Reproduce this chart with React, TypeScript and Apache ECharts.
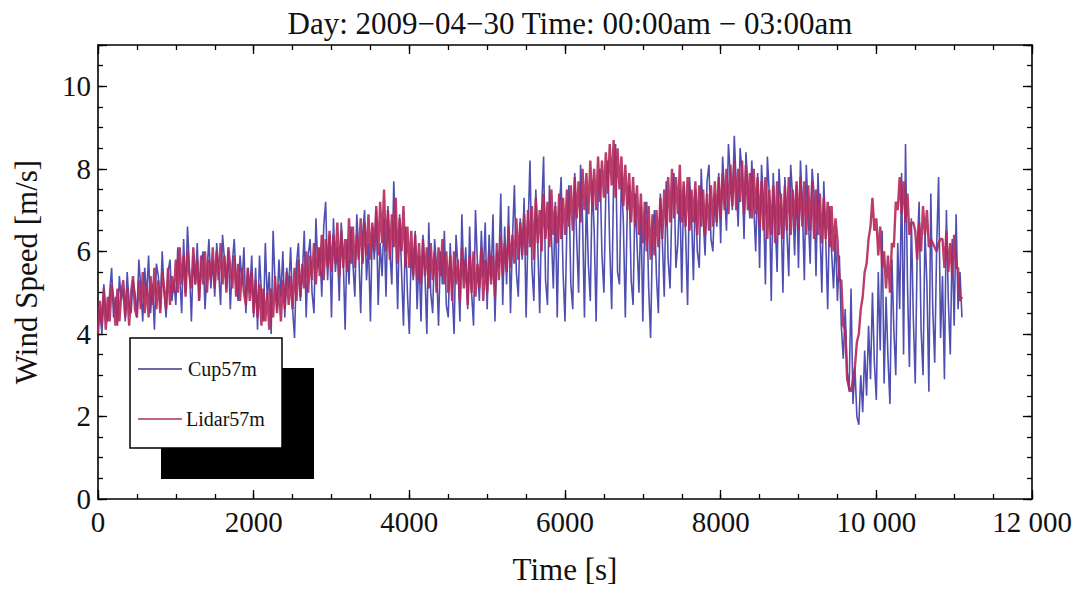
import React, { useEffect, useRef } from "react";
import * as echarts from "echarts";

// Sampling interval of the two records, seconds
const SAMPLE_INTERVAL_S = 25;

const TITLE = "Day: 2009\u221204\u221230 Time: 00:00am \u2212 03:00am";
const X_NAME = "Time [s]";
const Y_NAME = "Wind Speed [m/s]";
const SERIES_NAMES = ["Cup57m", "Lidar57m"];

const X_TICKS = [0, 2000, 4000, 6000, 8000, 10000, 12000];
const Y_TICKS = [0, 2, 4, 6, 8, 10];

// Cup anemometer at 57 m (m/s), one value per 25 s from t = 0
const CUP_57M = [
  4.1, 4.6, 4.0, 5.2, 4.5, 4.3, 5.0, 5.6, 4.4, 4.9, 4.2, 5.4, 4.8, 5.1, 4.3, 5.5, 4.7, 4.5, 5.3, 5.0,
  4.4, 5.8, 5.1, 4.3, 5.6, 4.9, 5.9, 4.5, 5.2, 4.1, 5.7, 5.4, 4.6, 6.0, 5.0, 4.4, 5.5, 5.8, 4.8, 5.3,
  4.7, 6.1, 5.4, 4.5, 6.3, 5.0, 6.6, 5.6, 4.3, 5.9, 5.2, 6.2, 4.8, 5.7, 6.0, 4.6, 5.5, 6.3, 5.1, 5.8,
  4.9, 6.2, 5.5, 4.7, 6.4, 5.8, 5.1, 6.0, 4.6, 5.7, 6.3, 5.3, 4.8, 5.9, 5.2, 6.1, 4.5, 5.6, 5.0, 5.9,
  4.4, 5.6, 4.1, 5.9, 5.0, 4.3, 6.2, 4.8, 5.5, 4.0, 6.5, 5.2, 4.6, 5.8, 4.9, 6.0, 4.4, 5.6, 5.1, 6.1,
  4.6, 3.9, 5.7, 6.2, 4.8, 5.4, 6.5, 4.4, 5.9, 6.3, 5.0, 4.5, 6.8, 5.6, 6.1, 4.9, 6.6, 7.2, 5.3, 6.4,
  4.4, 6.8, 5.5, 6.1, 4.8, 6.7, 5.9, 4.1, 6.3, 5.2, 6.6, 5.7, 4.9, 6.9, 6.0, 4.5, 6.4, 7.0, 5.3, 6.2,
  4.3, 6.6, 5.8, 7.0, 4.7, 6.2, 5.4, 6.8, 4.9, 7.1, 6.0, 5.2, 7.7, 6.4, 4.6, 6.9, 5.5, 4.2, 6.6, 5.0,
  4.0, 6.1, 5.3, 6.5, 4.6, 5.9, 4.3, 6.4, 5.5, 4.0, 6.7, 5.0, 4.5, 6.3, 5.6, 4.2, 6.0, 5.2, 6.5, 4.7,
  4.4, 6.2, 5.1, 4.0, 6.4, 5.6, 4.3, 6.9, 5.3, 6.1, 4.6, 6.6, 5.0, 4.2, 7.0, 5.7, 4.8, 6.5, 5.4, 6.7,
  4.6, 6.4, 5.3, 6.9, 4.3, 6.0, 5.6, 7.4, 4.7, 6.6, 5.2, 7.1, 4.5, 6.3, 7.6, 5.5, 4.9, 6.8, 5.8, 7.3,
  4.4, 6.5, 8.2, 5.6, 4.8, 7.5, 6.2, 4.5, 7.0, 8.3, 5.3, 4.7, 7.6, 6.4, 5.1, 7.2, 4.4, 6.9, 7.8, 5.5,
  4.3, 6.7, 7.6, 5.2, 4.6, 7.9, 6.3, 5.0, 8.1, 6.8, 4.4, 7.4, 5.7, 4.8, 7.7, 6.5, 4.3, 7.3, 8.0, 5.9,
  5.0, 7.5, 8.2, 6.1, 4.6, 7.8, 8.6, 5.5, 5.2, 7.9, 6.7, 4.4, 7.0, 7.6, 5.3, 4.7, 7.4, 6.2, 5.0, 7.1,
  4.3, 6.8, 7.2, 5.1, 3.9, 6.5, 7.0, 5.4, 4.5, 7.4, 6.3, 4.9, 7.7, 5.8, 5.1, 7.3, 7.9, 5.6, 6.2, 7.5,
  5.0, 7.6, 6.4, 4.7, 7.8, 6.9, 5.3, 7.5, 6.0, 5.6, 8.0, 6.8, 5.9, 7.7, 8.1, 6.3, 6.0, 7.4, 6.6, 7.9,
  6.2, 8.3, 7.4, 6.5, 8.6, 7.8, 7.0, 8.8, 7.6, 6.6, 8.5, 7.9, 6.3, 8.4, 7.5, 6.8, 8.2, 7.1, 6.0, 7.9,
  5.6, 8.1, 7.2, 5.2, 8.3, 7.4, 4.8, 7.9, 6.8, 5.5, 8.0, 7.0, 5.0, 7.8, 6.5, 5.4, 8.1, 7.3, 5.9, 7.6,
  5.6, 8.2, 7.1, 5.3, 8.1, 6.9, 5.7, 8.0, 7.4, 5.4, 7.9, 6.6, 5.0, 7.7, 6.3, 4.6, 7.1, 6.0, 5.1, 6.4,
  4.8, 5.9, 4.2, 3.4, 4.6, 3.1, 2.6, 5.1, 2.3, 3.2, 2.0, 1.8, 3.0, 2.1, 3.6, 2.5, 4.2, 2.9, 5.0, 3.3,
  2.4, 5.5, 3.6, 6.5, 2.8, 4.9, 3.4, 2.3, 5.8, 4.1, 3.0, 6.2, 4.6, 7.9, 3.5, 8.6, 5.2, 3.2, 6.8, 4.4,
  2.8, 6.0, 7.2, 4.1, 3.0, 6.5, 5.2, 2.6, 7.4, 4.6, 3.3, 6.1, 7.8, 3.9, 5.4, 2.9, 7.0, 4.8, 3.5, 6.3,
  4.2, 6.9, 4.6, 5.5, 4.4,
];

// Lidar at 57 m (m/s), one value per 25 s from t = 0
const LIDAR_57M = [
  4.0, 4.8, 4.2, 5.1, 4.1, 4.9, 4.3, 5.2, 4.8, 4.2, 5.1, 4.3, 5.0, 5.3, 4.4, 5.1, 4.2, 5.0, 5.4, 4.6,
  4.4, 5.3, 4.6, 5.5, 4.5, 5.2, 4.4, 5.4, 4.7, 5.6, 4.6, 5.3, 4.5, 5.5, 5.1, 4.6, 5.6, 4.7, 5.4, 5.0,
  5.8, 5.0, 6.1, 5.2, 5.9, 4.9, 6.0, 5.4, 5.1, 6.1, 5.2, 5.8, 4.8, 5.9, 5.2, 6.0, 5.0, 5.8, 5.3, 6.1,
  5.1, 6.0, 5.3, 6.2, 5.2, 5.9, 5.0, 6.1, 5.6, 5.1, 5.9, 4.9, 5.7, 4.8, 5.6, 5.0, 4.7, 5.6, 4.8, 5.5,
  4.5, 5.3, 4.4, 5.2, 4.2, 5.1, 4.3, 5.0, 4.1, 5.1, 4.4, 5.4, 4.5, 5.2, 4.3, 5.3, 4.6, 5.5, 4.7, 5.4,
  4.6, 5.6, 4.8, 5.8, 4.9, 5.7, 5.1, 6.0, 5.0, 5.9, 5.3, 6.2, 5.2, 6.1, 5.4, 6.4, 5.3, 6.3, 5.6, 6.5,
  5.5, 6.4, 5.7, 6.7, 5.4, 6.5, 5.6, 6.3, 5.5, 6.8, 5.7, 6.6, 5.6, 6.4, 5.8, 6.8, 5.7, 6.7, 5.9, 6.9,
  5.8, 6.7, 6.0, 7.1, 5.9, 7.2, 6.2, 7.5, 6.0, 7.0, 5.8, 6.9, 6.1, 7.3, 5.7, 6.8, 6.0, 7.1, 5.6, 6.6,
  5.6, 6.5, 5.4, 6.4, 5.3, 6.2, 5.2, 6.3, 5.4, 6.1, 5.1, 6.2, 5.3, 6.0, 5.0, 6.1, 5.4, 6.3, 5.2, 6.0,
  5.0, 5.9, 4.8, 6.0, 5.2, 5.8, 4.8, 6.1, 5.1, 5.8, 4.7, 5.9, 5.0, 6.0, 4.9, 5.7, 5.1, 6.1, 4.8, 5.8,
  5.0, 6.0, 5.2, 5.9, 4.9, 6.2, 5.3, 6.4, 5.4, 6.2, 5.5, 6.6, 5.6, 6.4, 5.7, 6.8, 5.8, 6.7, 5.9, 6.9,
  5.9, 7.0, 6.1, 7.1, 5.8, 7.3, 6.2, 7.0, 6.0, 7.4, 6.3, 7.2, 6.1, 7.5, 6.4, 7.1, 6.2, 7.4, 6.3, 7.3,
  6.4, 7.5, 6.6, 7.6, 6.5, 7.8, 6.8, 7.7, 6.7, 8.0, 7.0, 7.9, 6.9, 8.2, 7.1, 8.0, 7.0, 8.3, 7.2, 8.2,
  7.3, 8.4, 7.4, 8.6, 7.6, 8.7, 7.3, 8.5, 7.5, 8.3, 7.1, 8.1, 7.0, 7.9, 6.7, 7.8, 6.6, 7.6, 6.4, 7.4,
  6.2, 7.2, 6.0, 7.1, 5.8, 6.9, 5.9, 7.0, 6.1, 7.3, 6.3, 7.5, 6.6, 7.8, 6.7, 8.0, 6.8, 7.8, 6.9, 8.1,
  6.7, 7.7, 6.6, 7.8, 6.5, 7.5, 6.7, 7.7, 6.4, 7.6, 6.6, 7.5, 6.4, 7.4, 6.5, 7.6, 6.6, 7.7, 6.7, 7.8,
  6.8, 7.9, 7.0, 8.0, 6.9, 8.1, 7.1, 8.2, 7.0, 8.0, 7.2, 8.2, 6.9, 8.1, 7.0, 7.9, 6.8, 8.0, 6.9, 7.8,
  6.6, 7.7, 6.5, 7.8, 6.3, 7.5, 6.4, 7.6, 6.2, 7.7, 6.4, 7.4, 6.3, 7.6, 6.5, 7.8, 6.4, 7.5, 6.6, 7.7,
  6.5, 7.8, 6.6, 7.7, 6.4, 7.6, 6.5, 7.7, 6.3, 7.5, 6.4, 7.4, 6.2, 7.3, 6.3, 7.2, 6.1, 7.1, 6.0, 6.8,
  6.3, 5.3, 5.3, 4.2, 4.1, 2.9, 2.7, 2.6, 2.9, 3.2, 3.8, 4.0, 4.6, 4.9, 5.5, 5.7, 6.3, 6.6, 7.3, 6.5,
  6.8, 5.9, 6.6, 5.6, 6.0, 5.1, 5.9, 5.0, 6.2, 6.1, 7.2, 7.0, 7.8, 6.9, 7.7, 6.7, 7.4, 6.4, 6.7, 6.7,
  6.5, 5.8, 6.7, 6.0, 7.1, 6.4, 7.0, 6.1, 6.3, 6.2, 6.1, 6.0, 6.2, 6.3, 6.3, 5.6, 6.5, 5.5, 6.2, 5.4,
  6.4, 5.6, 5.6, 4.8, 4.9,
];

const CUP_COLOR = "rgba(48, 48, 165, 0.85)";
const LIDAR_COLOR = "rgba(178, 40, 90, 0.9)";
const FONT = "'Liberation Serif', 'DejaVu Serif', serif";

const toPairs = (vals: number[]) =>
  vals.map((v, i) => [i * SAMPLE_INTERVAL_S, v]);

const fmtX = (v: number) => {
  if (X_TICKS.indexOf(v) < 0) return "";
  const s = String(v);
  return v >= 10000 ? s.slice(0, s.length - 3) + " " + s.slice(-3) : s;
};
const fmtY = (v: number) => (Y_TICKS.indexOf(v) < 0 ? "" : String(v));

export default function App() {
  const ref = useRef<HTMLDivElement>(null);

  useEffect(() => {
    if (!ref.current) return;
    const chart = echarts.init(ref.current, undefined, { renderer: "svg" });

    const lineStyle = { color: "#000", width: 1.6 };
    const X_MIN = 0, X_MAX = 12000, Y_MIN = 0, Y_MAX = 11;

    const axis = (extra: any) => ({
      type: "value",
      min: extra.min,
      max: extra.max,
      interval: extra.interval,
      splitLine: { show: false },
      axisLine: { show: extra.line, lineStyle, onZero: false },
      axisTick: { show: true, inside: true, length: extra.len, lineStyle: { color: "#000", width: 1.3 } },
      axisLabel: { show: false },
      position: extra.position,
      ...extra.more,
    });

    const option: any = {
      animation: false,
      backgroundColor: "#fff",
      title: {
        text: TITLE,
        left: 565,
        top: 3,
        textAlign: "center",
        textStyle: { fontFamily: FONT, fontSize: 31, fontWeight: "normal", color: "#111" },
      },
      grid: { left: 98, right: 46, top: 45, bottom: 90, containLabel: false },
      xAxis: [
        axis({
          min: X_MIN, max: X_MAX, interval: 2000, line: true, len: 9, position: "bottom",
          more: {
            name: X_NAME,
            nameLocation: "middle",
            nameGap: 55,
            nameTextStyle: { fontFamily: FONT, fontSize: 31, color: "#111" },
            axisLabel: { show: true, margin: 8, fontFamily: FONT, fontSize: 29, color: "#111", formatter: fmtX },
          },
        }),
        axis({ min: X_MIN, max: X_MAX, interval: 500, line: false, len: 5, position: "bottom" }),
        axis({ min: X_MIN, max: X_MAX, interval: 2000, line: true, len: 9, position: "top" }),
        axis({ min: X_MIN, max: X_MAX, interval: 500, line: false, len: 5, position: "top" }),
      ],
      yAxis: [
        axis({
          min: Y_MIN, max: Y_MAX, interval: 2, line: true, len: 9, position: "left",
          more: {
            name: Y_NAME,
            nameLocation: "middle",
            nameRotate: 90,
            nameGap: 56,
            nameTextStyle: { fontFamily: FONT, fontSize: 31, color: "#111" },
            axisLabel: { show: true, margin: 7, fontFamily: FONT, fontSize: 29, color: "#111", formatter: fmtY },
          },
        }),
        axis({ min: Y_MIN, max: Y_MAX, interval: 0.5, line: false, len: 5, position: "left" }),
        axis({ min: Y_MIN, max: Y_MAX, interval: 2, line: true, len: 9, position: "right" }),
        axis({ min: Y_MIN, max: Y_MAX, interval: 0.5, line: false, len: 5, position: "right" }),
      ],
      series: [
        {
          name: SERIES_NAMES[0],
          type: "line",
          xAxisIndex: 0,
          yAxisIndex: 0,
          data: toPairs(CUP_57M),
          showSymbol: false,
          symbol: "none",
          lineStyle: { color: CUP_COLOR, width: 1.6 },
          itemStyle: { color: CUP_COLOR },
          z: 2,
        },
        {
          name: SERIES_NAMES[1],
          type: "line",
          xAxisIndex: 0,
          yAxisIndex: 0,
          data: toPairs(LIDAR_57M),
          showSymbol: false,
          symbol: "none",
          lineStyle: { color: LIDAR_COLOR, width: 2.4 },
          itemStyle: { color: LIDAR_COLOR },
          z: 3,
        },
      ],
      graphic: [
        { type: "rect", z: 100, shape: { x: 161, y: 368, width: 153, height: 111 }, style: { fill: "#000" } },
        { type: "rect", z: 101, shape: { x: 130, y: 338, width: 152, height: 110 }, style: { fill: "#fff", stroke: "#000", lineWidth: 1.5 } },
        { type: "line", z: 102, shape: { x1: 138, y1: 369, x2: 182, y2: 369 }, style: { stroke: "#3a3a8a", lineWidth: 1.5 } },
        { type: "line", z: 102, shape: { x1: 138, y1: 419, x2: 182, y2: 419 }, style: { stroke: "#c06482", lineWidth: 2 } },
        { type: "text", z: 102, x: 188, y: 369, style: { text: SERIES_NAMES[0], font: "20px 'Liberation Serif', serif", fill: "#111", verticalAlign: "middle" } },
        { type: "text", z: 102, x: 186, y: 419, style: { text: SERIES_NAMES[1], font: "20px 'Liberation Serif', serif", fill: "#111", verticalAlign: "middle" } },
      ],
    };

    chart.setOption(option);
    return () => chart.dispose();
  }, []);

  return (
    <div
      ref={ref}
      style={{ position: "fixed", left: 0, top: 0, width: 1078, height: 590, background: "#fff" }}
    />
  );
}
